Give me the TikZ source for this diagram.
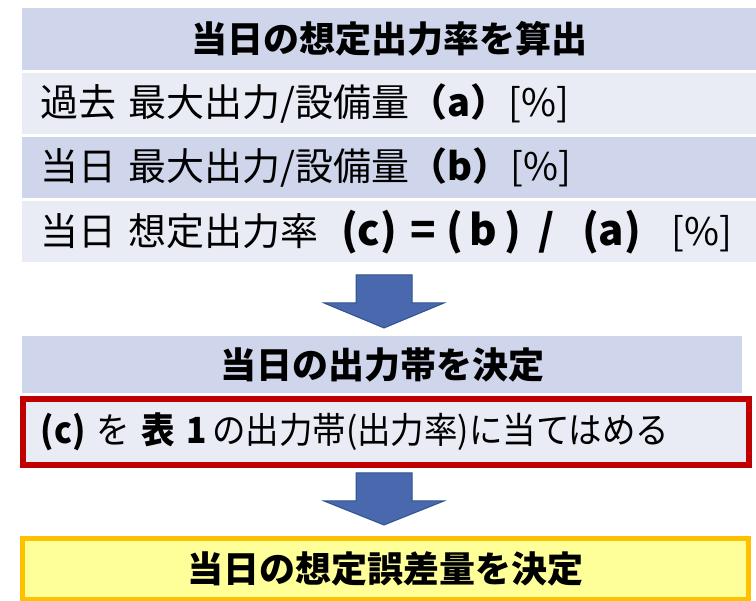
\documentclass[tikz,border=0pt]{standalone}
\usepackage{fontspec}
\setmainfont{Noto Sans CJK JP}
\definecolor{hdrc}{HTML}{CFD5EA}
\definecolor{lightc}{HTML}{E9EBF5}
\definecolor{redc}{HTML}{C00000}
\definecolor{yelf}{HTML}{FFFF99}
\definecolor{yelb}{HTML}{FFC000}
\definecolor{arrf}{HTML}{4A68AE}
\definecolor{arrd}{HTML}{2F528F}
\newcommand\bigtxt{\fontsize{36}{40}\selectfont}
\newcommand\rowtxt{\fontsize{38}{42}\selectfont}
\newcommand\pc[2]{\makebox[#1pt][l]{#2}}
\tikzset{
  band/.style={anchor=north west, inner ysep=0pt, font=\bigtxt},
  hdrband/.style={band, fill=hdrc, inner xsep=0pt, font=\bigtxt\bfseries},
  rowband/.style={band, inner xsep=18pt, text width=698pt, align=left, font=\rowtxt},
  fatarr/.style={fill=arrf, draw=arrd, line width=1pt, line join=miter},
}
\newcommand\fatarrow[4]{% cx, ytop, yshoulder, yapex
  \path[fatarr] ({#1-28},#2) -- ({#1+28},#2) -- ({#1+28},#3) -- ({#1+60},#3)
    -- (#1,#4) -- ({#1-60},#3) -- ({#1-28},#3) -- cycle;}
\begin{document}
\begin{tikzpicture}[x=1pt,y=-1pt]
\useasboundingbox (0,0) rectangle (756,601);
% top block
\node[hdrband, minimum width=734pt, minimum height=62pt] (h1) at (22,8) {当日の想定出力率を算出};
\node[rowband, fill=lightc, minimum height=61pt] (r1) at (22,73) {過去 最大出力/設備量\textbf{（a）}[\%]};
\node[rowband, fill=hdrc, minimum height=61pt] (r2) at (22,137) {当日 最大出力/設備量\textbf{（b）}[\%]};
\node[rowband, fill=lightc, minimum height=61pt] (r3) at (22,201) {\pc{301}{当日 想定出力率}{\fontsize{42}{42}\selectfont\bfseries\pc{69}{(c)}\pc{36}{=}\pc{23}{(}\pc{35}{b}\pc{34}{)}\pc{44}{/}\pc{89}{(a)}}[\%]};
% arrow 1
\fatarrow{384}{275}{303}{328}
% second block
\node[hdrband, minimum width=720pt, minimum height=57pt] (h2) at (22,336) {当日の出力帯を決定};
\node[rowband, fill=lightc, draw=redc, line width=6pt, text width=690pt, inner xsep=18pt, minimum height=66pt, font=\bigtxt] (rb) at (20,396) {\scalebox{0.93}[1]{\textbf{(c)} を \textbf{表 1}\,の出力帯(出力率)に当てはめる}};
% arrow 2
\fatarrow{384}{473}{501}{525}
% final block
\node[band, fill=yelf, draw=yelb, line width=5pt, minimum width=726pt, minimum height=61pt, font=\bigtxt\bfseries] (y1) at (20,536) {当日の想定誤差量を決定};
\end{tikzpicture}
\end{document}
